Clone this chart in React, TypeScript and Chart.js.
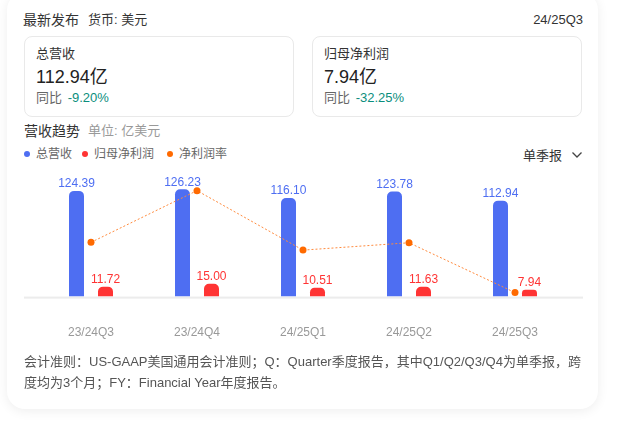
import React, { useEffect, useRef } from "react";
import { Chart, registerables } from "chart.js";

Chart.register(...registerables);

// ---- data ----
const categories = ["23/24Q3", "23/24Q4", "24/25Q1", "24/25Q2", "24/25Q3"];
const revenue = [124.39, 126.23, 116.1, 123.78, 112.94];
const netProfit = [11.72, 15.0, 10.51, 11.63, 7.94];
const netMargin = [9.42, 11.88, 9.05, 9.4, 7.03];

const seriesNames = ["总营收", "归母净利润", "净利润率"];

const FONT = '"Liberation Sans", Arial, "Noto Sans CJK SC", sans-serif';
const BLUE = "#4e6ef2";
const RED = "#ff3434";
const ORANGE = "#ff6a00";

const baselinePlugin = {
  id: "baseline",
  beforeDatasetsDraw(chart: any) {
    const { ctx, chartArea, scales } = chart;
    const y = scales.y.getPixelForValue(0);
    ctx.save();
    ctx.fillStyle = "#ececec";
    ctx.fillRect(chartArea.left - 14, y, chartArea.right - chartArea.left + 29, 2);
    ctx.restore();
  },
};

const valueLabelPlugin = {
  id: "valueLabels",
  afterDatasetsDraw(chart: any) {
    const { ctx } = chart;
    chart.data.datasets.forEach((ds: any, i: number) => {
      if (ds.type !== "bar") return;
      const meta = chart.getDatasetMeta(i);
      ctx.save();
      ctx.font = `12px ${FONT}`;
      ctx.fillStyle = ds.labelColor;
      ctx.textAlign = "center";
      ctx.textBaseline = "alphabetic";
      meta.data.forEach((el: any, j: number) => {
        ctx.fillText(Number(ds.data[j]).toFixed(2), el.x, el.y - 3.5);
      });
      ctx.restore();
    });
  },
};

function ChartCanvas() {
  const ref = useRef<HTMLCanvasElement | null>(null);
  useEffect(() => {
    if (!ref.current) return;
    const chart = new Chart(ref.current, {
      type: "bar",
      data: {
        labels: categories,
        datasets: [
          {
            type: "line",
            label: seriesNames[2],
            data: netMargin,
            yAxisID: "y1",
            borderColor: "#ff8a3d",
            borderWidth: 1,
            borderDash: [2, 2],
            pointRadius: 3.5,
            pointBackgroundColor: ORANGE,
            pointBorderColor: ORANGE,
            pointBorderWidth: 0,
            tension: 0,
            order: 0,
          } as any,
          {
            type: "bar",
            label: seriesNames[0],
            data: revenue,
            yAxisID: "y",
            backgroundColor: BLUE,
            borderRadius: 5,
            borderSkipped: "start",
            categoryPercentage: 0.547,
            barPercentage: 0.517,
            order: 1,
            labelColor: BLUE,
          } as any,
          {
            type: "bar",
            label: seriesNames[1],
            data: netProfit,
            yAxisID: "y",
            backgroundColor: RED,
            borderRadius: 5,
            borderSkipped: "start",
            categoryPercentage: 0.547,
            barPercentage: 0.517,
            order: 1,
            labelColor: RED,
          } as any,
        ],
      },
      options: {
        responsive: false,
        animation: false,
        devicePixelRatio: 1,
        layout: { padding: { left: 38, right: 54, top: 10, bottom: 0 } },
        plugins: {
          legend: { display: false },
          tooltip: { enabled: false },
        },
        scales: {
          x: {
            offset: true,
            grid: { display: false, drawTicks: false },
            border: { display: false },
            ticks: {
              color: "#999999",
              font: { size: 12, family: FONT },
              padding: 29,
              maxRotation: 0,
            },
          },
          y: { display: false, min: 0, max: 149 },
          y1: { display: false, min: 6.838, max: 12.862, position: "right" },
        },
      },
      plugins: [baselinePlugin, valueLabelPlugin],
    });
    return () => chart.destroy();
  }, []);
  return (
    <canvas
      ref={ref}
      width={622}
      height={209}
      style={{ position: "absolute", left: 0, top: 160, width: 622, height: 209 }}
    />
  );
}

const abs = (s: React.CSSProperties): React.CSSProperties => ({
  position: "absolute",
  whiteSpace: "nowrap",
  ...s,
});

function KpiBox({ left, title, value, yoy }: { left: number; title: string; value: string; yoy: string }) {
  return (
    <div
      style={{
        position: "absolute",
        left,
        top: 36,
        width: 270,
        height: 81,
        boxSizing: "border-box",
        border: "1px solid #e9e9e9",
        borderRadius: 8,
      }}
    >
      <div style={abs({ left: 11, top: 7, fontSize: 13, lineHeight: "20px", color: "#333" })}>{title}</div>
      <div style={abs({ left: 11, top: 28, fontSize: 18, lineHeight: "24px", color: "#222" })}>{value}</div>
      <div style={abs({ left: 11, top: 51, fontSize: 13, lineHeight: "20px", color: "#666" })}>
        同比 <span style={{ color: "#0b8e7d", marginLeft: 2 }}>{yoy}</span>
      </div>
    </div>
  );
}

export default function App() {
  const legendColors = [BLUE, RED, ORANGE];
  const legendLefts = [24, 82, 167];
  return (
    <div
      style={{
        position: "fixed",
        left: 0,
        top: 0,
        width: 622,
        height: 421,
        background: "#fff",
        fontFamily: FONT,
        overflow: "hidden",
      }}
    >
      <div
        style={{
          position: "absolute",
          left: 7,
          top: -8,
          width: 591,
          height: 417,
          background: "#fff",
          borderRadius: 18,
          boxShadow: "0 2px 12px rgba(0,0,0,0.07)",
        }}
      />
      <div style={abs({ left: 23, top: 10, fontSize: 14, lineHeight: "20px", color: "#333" })}>最新发布</div>
      <div style={abs({ left: 88, top: 10, fontSize: 13, lineHeight: "20px", color: "#333" })}>货币: 美元</div>
      <div style={abs({ right: 39, top: 10, fontSize: 13, lineHeight: "20px", color: "#333" })}>24/25Q3</div>

      <KpiBox left={24} title="总营收" value="112.94亿" yoy="-9.20%" />
      <KpiBox left={312} title="归母净利润" value="7.94亿" yoy="-32.25%" />

      <div style={abs({ left: 24, top: 121, fontSize: 14, lineHeight: "20px", color: "#333" })}>营收趋势</div>
      <div style={abs({ left: 88, top: 121, fontSize: 13, lineHeight: "20px", color: "#999" })}>单位: 亿美元</div>

      {seriesNames.map((n, i) => (
        <div key={n} style={abs({ left: legendLefts[i], top: 145, fontSize: 12, lineHeight: "18px", color: "#666" })}>
          <span
            style={{
              display: "inline-block",
              width: 6,
              height: 6,
              borderRadius: 3,
              background: legendColors[i],
              marginRight: 6,
              verticalAlign: "middle",
              position: "relative",
              top: -1,
            }}
          />
          {n}
        </div>
      ))}

      <div style={abs({ left: 523, top: 146, fontSize: 13, lineHeight: "20px", color: "#333" })}>单季报</div>
      <svg style={{ position: "absolute", left: 571, top: 151 }} width="12" height="8" viewBox="0 0 12 8">
        <polyline points="1.5,1.5 6,6 10.5,1.5" fill="none" stroke="#444" strokeWidth="1.3" />
      </svg>

      <ChartCanvas />

      <div style={abs({ left: 24, top: 351, fontSize: 13, lineHeight: "21px", color: "#555" })}>
        会计准则：US-GAAP美国通用会计准则；Q：Quarter季度报告，其中Q1/Q2/Q3/Q4为单季报，跨
        <br />
        度均为3个月；FY：Financial Year年度报告。
      </div>
    </div>
  );
}
